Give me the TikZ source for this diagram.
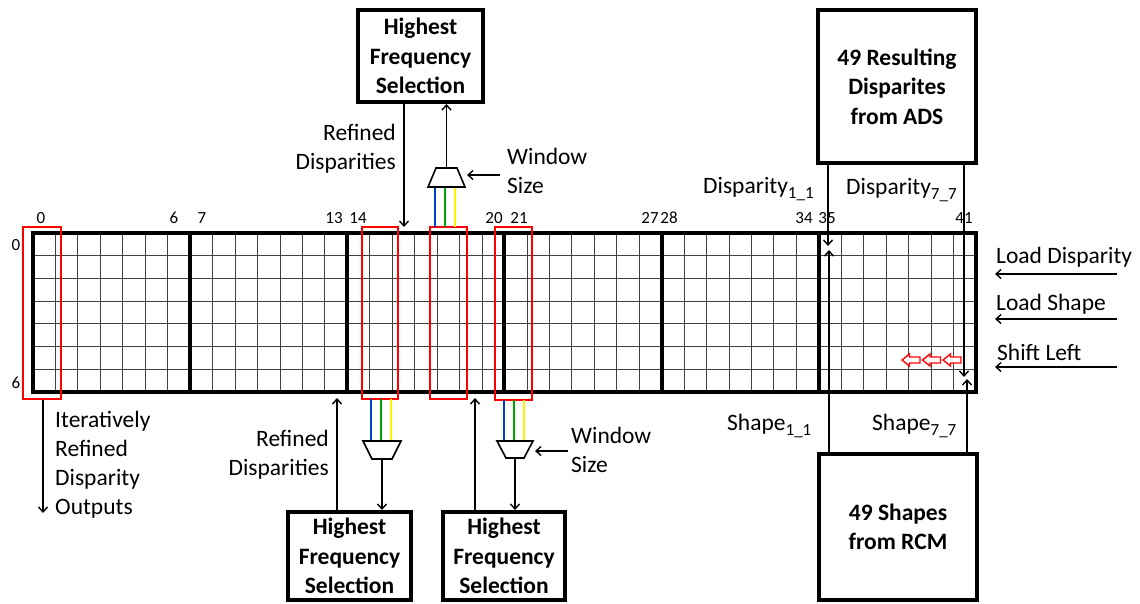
\documentclass[tikz,border=0pt]{standalone}
\usepackage{fontspec}
\setmainfont{Carlito}
\usetikzlibrary{arrows.meta}
\newcommand{\sbs}[1]{\raisebox{-5pt}{\fontsize{17}{17}\selectfont #1}}
\begin{document}
\begin{tikzpicture}[x=1pt,y=-1pt,
  lbl/.style={font=\fontsize{23.5}{29}\selectfont, inner sep=0pt},
  num/.style={font=\fontsize{17}{17}\selectfont, inner sep=0pt},
  box/.style={draw, line width=4pt, font=\fontsize{23.5}{29.5}\selectfont\bfseries, align=center, inner sep=0pt},
  arr/.style={line width=1.4pt, -{Straight Barb[length=5pt,width=9pt]}},
  redbox/.style={draw=red, line width=2.4pt},
  gline/.style={draw=black!75, line width=0.9pt},
  gthick/.style={line width=4pt},
  mux/.style={draw, line width=1.6pt, fill=white, line join=miter},
  bus/.style={line width=2.2pt},
  hollow/.style={draw=red, line width=1.4pt, fill=white},
]
\useasboundingbox (0,0) rectangle (1140,603);
\def\gx{33}\def\gw{22.452}\def\gy{233}\def\gh{22.714}
% grid
\foreach \i in {1,...,41} \draw[gline] ({\gx+\i*\gw},\gy) -- ({\gx+\i*\gw},{\gy+7*\gh});
\foreach \j in {1,...,6} \draw[gline] (\gx,{\gy+\j*\gh}) -- ({\gx+42*\gw},{\gy+\j*\gh});
\foreach \i in {7,14,21,28,35} \draw[gthick] ({\gx+\i*\gw},\gy) -- ({\gx+\i*\gw},{\gy+7*\gh});
\draw[gthick] (\gx,\gy) rectangle ({\gx+42*\gw},{\gy+7*\gh});
% column numbers
\foreach \t/\x in {0/41,6/174,7/202,13/334,14/358,20/494,21/519,27/650,28/669,34/804,35/827,41/964}
  \node[num] (c\t) at (\x,218) {\t};
\node[num] (r0) at (16,245) {0};
\node[num] (r6) at (16,383) {6};
% red highlight boxes
\draw[redbox] (23,227) rectangle (61,399);
\draw[redbox] (362,227) rectangle (398,399);
\draw[redbox] (430,227) rectangle (467,399);
\draw[redbox] (495,227) rectangle (532,400);
% red shift arrows
\foreach \a in {902,922.5,943}
  \draw[hollow] (\a,360) -- (\a+7.5,354) -- (\a+7.5,357) -- (\a+18,357) -- (\a+18,363) -- (\a+7.5,363) -- (\a+7.5,366) -- cycle;
% boxes
\node[box, minimum width=125pt, minimum height=92pt] (hfTop) at (420.5,56) {Highest\\Frequency\\Selection};
\node[box, minimum width=123pt, minimum height=88pt] (hfB1) at (349.5,556) {Highest\\Frequency\\Selection};
\node[box, minimum width=122pt, minimum height=88pt] (hfB2) at (504,556) {Highest\\Frequency\\Selection};
\node[box, minimum width=158pt, minimum height=153pt] (ads) at (897,86.5) {49 Resulting\\Disparites\\from ADS};
\node[box, minimum width=158pt, minimum height=146pt] (rcm) at (898,527) {49 Shapes\\from RCM};
% top mux
\draw[bus, blue!70!cyan!80!black] (435,227) -- (435,187);
\draw[bus, green!65!black] (445,227) -- (445,187);
\draw[bus, yellow] (455,227) -- (455,187);
\draw[mux] (428,187) -- (465,187) -- (457,168) -- (436,168) -- cycle;
\coordinate (m1o) at (446.5,168);
\draw[arr] (m1o) -- (m1o |- hfTop.south);
\coordinate (w1s) at (500,175);
\draw[arr] (w1s) -- (467,175);
\node[lbl, anchor=west, align=left] (w1) at (507,171) {Window\\Size};
% top refined
\node[lbl, anchor=east, align=right] (ref1) at (396,149) {Refined\\Disparities};
\coordinate (ref1e) at (404,227);
\draw[arr] (ref1e |- hfTop.south) -- (ref1e);
% bottom mux 1
\draw[bus, blue!70!cyan!80!black] (371,399) -- (371,441);
\draw[bus, green!65!black] (381,399) -- (381,441);
\draw[bus, yellow] (391,399) -- (391,441);
\draw[mux] (363,441) -- (401,441) -- (392,459) -- (372,459) -- cycle;
\coordinate (m2o) at (382,459);
\draw[arr] (m2o) -- (m2o |- hfB1.north);
\node[lbl, anchor=east, align=right] (ref2) at (329,455) {Refined\\Disparities};
\coordinate (ref2e) at (337,398);
\draw[arr] (ref2e |- hfB1.north) -- (ref2e);
% bottom mux 2
\draw[bus, blue!70!cyan!80!black] (504,400) -- (504,441);
\draw[bus, green!65!black] (514,400) -- (514,441);
\draw[bus, yellow] (524,400) -- (524,441);
\draw[mux] (497,441) -- (533,441) -- (524,458) -- (506,458) -- cycle;
\coordinate (m3o) at (515,458);
\draw[arr] (m3o) -- (m3o |- hfB2.north);
\coordinate (w3s) at (568,451);
\draw[arr] (w3s) -- (535,451);
\node[lbl, anchor=west, align=left] (w3) at (571,450) {Window\\Size};
\coordinate (ref3e) at (475,398);
\draw[arr] (ref3e |- hfB2.north) -- (ref3e);
% outputs
\coordinate (outs) at (43,400);
\draw[arr] (outs) -- (43,513);
\node[lbl, anchor=west, align=left] (iter) at (55,464.5) {Iteratively\\Refined\\Disparity\\Outputs};
% disparity / shape arrows
\coordinate (d11) at (828,246);
\coordinate (d77) at (964,377);
\coordinate (s11) at (829,250);
\coordinate (s77) at (967,379);
\draw[arr] (d11 |- ads.south) -- (d11);
\draw[arr] (d77 |- ads.south) -- (d77);
\draw[arr] (s11 |- rcm.north) -- (s11);
\draw[arr] (s77 |- rcm.north) -- (s77);
\node[lbl, anchor=west] (dl11) at (703,189) {Disparity\sbs{1\_1}};
\node[lbl, anchor=west] (dl77) at (846,190) {Disparity\sbs{7\_7}};
\node[lbl, anchor=west] (sl11) at (727,426) {Shape\sbs{1\_1}};
\node[lbl, anchor=west] (sl77) at (872,426) {Shape\sbs{7\_7}};
% control signals
\node[lbl, anchor=west] (ld) at (996,257) {Load Disparity};
\node[lbl, anchor=west] (ls) at (996,304) {Load Shape};
\node[lbl, anchor=west] (sl) at (997,352) {Shift Left};
\coordinate (ldS) at (1117,274);
\coordinate (lsS) at (1117,319);
\coordinate (slS) at (1117,367);
\draw[arr] (ldS) -- (995,274);
\draw[arr] (lsS) -- (995,319);
\draw[arr] (slS) -- (995,367);
\end{tikzpicture}
\end{document}
